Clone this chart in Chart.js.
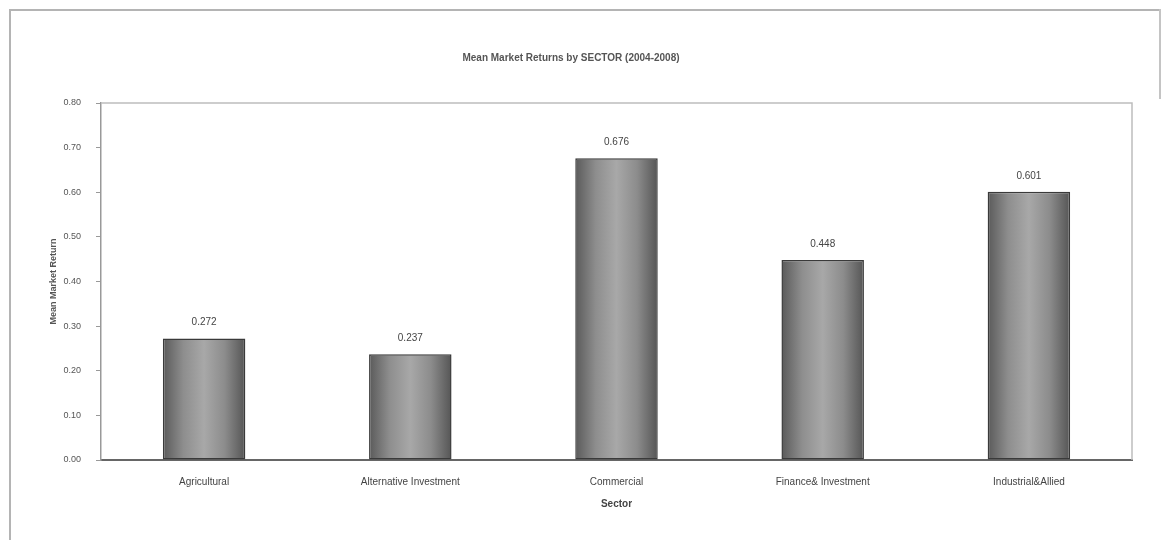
<!DOCTYPE html>
<html>
<head>
<meta charset="utf-8">
<script src="https://cdn.jsdelivr.net/npm/chart.js"></script>
<style>
  html, body { margin: 0; padding: 0; background: #fff; }
  #wrap { position: relative; width: 1162px; height: 540px; }
  #frame {
    position: absolute; left: 9px; top: 9px; width: 1150px; height: 540px;
    border-top: 2px solid #b4b4b4; border-left: 2px solid #b4b4b4;
  }
  #frameRight {
    position: absolute; left: 1159px; top: 9px; width: 2px; height: 90px;
    background: #c4c4c4;
  }
  canvas { position: absolute; left: 0; top: 0; }
</style>
</head>
<body>
<div id="wrap">
  <div id="frame"></div>
  <div id="frameRight"></div>
  <canvas id="sectorChart" width="1162" height="540"></canvas>
</div>
<script>
// ==================== DATA ====================
const sectors = ['Agricultural', 'Alternative Investment', 'Commercial', 'Finance& Investment', 'Industrial&Allied'];
const meanReturns = [0.272, 0.237, 0.676, 0.448, 0.601];
const valueLabels = ['0.272', '0.237', '0.676', '0.448', '0.601'];
const chartTitle = 'Mean Market Returns by SECTOR (2004-2008)';
const yAxisTitle = 'Mean Market Return';
const xAxisTitle = 'Sector';

const FONT = "'Liberation Sans', Arial, sans-serif";

// gray cylinder-ish fill for each bar, computed from the x scale
function barGradient(context) {
    const chart = context.chart;
    const xScale = chart.scales.x;
    if (!chart.chartArea || !xScale) return '#8a8a8a';
    const center = xScale.getPixelForValue(context.dataIndex);
    const half = (xScale.width / sectors.length) * 0.4 / 2;
    const g = chart.ctx.createLinearGradient(center - half, 0, center + half, 0);
    g.addColorStop(0, '#5a5a5a');
    g.addColorStop(0.25, '#8e8e8e');
    g.addColorStop(0.5, '#a8a8a8');
    g.addColorStop(0.75, '#8c8c8c');
    g.addColorStop(1, '#555555');
    return g;
}

// plot area box
const plotBox = {
    id: 'plotBox',
    beforeDatasetsDraw(chart) {
        const { ctx, chartArea } = chart;
        ctx.save();
        ctx.strokeStyle = '#bdbdbd';
        ctx.lineWidth = 1.5;
        ctx.beginPath();
        ctx.moveTo(chartArea.left, chartArea.top);
        ctx.lineTo(chartArea.right, chartArea.top);
        ctx.lineTo(chartArea.right, chartArea.bottom);
        ctx.stroke();
        ctx.restore();
    }
};

// value labels above bars
const barValues = {
    id: 'barValues',
    afterDatasetsDraw(chart) {
        const { ctx } = chart;
        const meta = chart.getDatasetMeta(0);
        ctx.save();
        ctx.font = '10px ' + FONT;
        ctx.fillStyle = '#444';
        ctx.textAlign = 'center';
        ctx.textBaseline = 'bottom';
        meta.data.forEach((bar, i) => {
            ctx.fillText(valueLabels[i], bar.x, bar.y - 11);
        });
        ctx.restore();
    }
};

const ctx = document.getElementById('sectorChart');
const chart = new Chart(ctx, {
    type: 'bar',
    data: {
        labels: sectors,
        datasets: [{
            label: yAxisTitle,
            data: meanReturns,
            backgroundColor: barGradient,
            borderColor: '#3a3a3a',
            borderWidth: 1.5,
            borderSkipped: false,
            barPercentage: 0.4,
            categoryPercentage: 1.0
        }]
    },
    options: {
        responsive: false,
        animation: false,
        layout: { padding: { left: 10, right: 30, top: 6, bottom: 30 } },
        plugins: {
            legend: { display: false },
            tooltip: { enabled: false },
            title: {
                display: true,
                text: chartTitle,
                color: '#555',
                font: { family: FONT, size: 10, weight: 'bold' },
                padding: { top: 46, bottom: 39 }
            }
        },
        scales: {
            x: {
                grid: { display: false },
                border: { display: true, color: '#666', width: 2 },
                ticks: {
                    color: '#444',
                    font: { family: FONT, size: 10 },
                    padding: 8,
                    maxRotation: 0,
                    autoSkip: false
                },
                title: {
                    display: true,
                    text: xAxisTitle,
                    color: '#444',
                    font: { family: FONT, size: 10, weight: 'bold' },
                    padding: { top: 11, bottom: 0 }
                },
                afterFit(scale) { scale.height = 50; }
            },
            y: {
                min: 0,
                max: 0.8,
                grid: {
                    drawOnChartArea: false,
                    drawTicks: true,
                    tickLength: 5,
                    color: '#999'
                },
                border: { display: true, color: '#999', width: 1.5 },
                ticks: {
                    stepSize: 0.1,
                    color: '#555',
                    font: { family: FONT, size: 9 },
                    padding: 15,
                    callback: v => Number(v).toFixed(2)
                },
                title: {
                    display: true,
                    text: yAxisTitle,
                    color: '#555',
                    font: { family: FONT, size: 9, weight: 'bold' },
                    padding: { top: 38, bottom: 0 }
                },
                afterFit(scale) { scale.width = 91; }
            }
        }
    },
    plugins: [plotBox, barValues]
});
</script>
</body>
</html>
